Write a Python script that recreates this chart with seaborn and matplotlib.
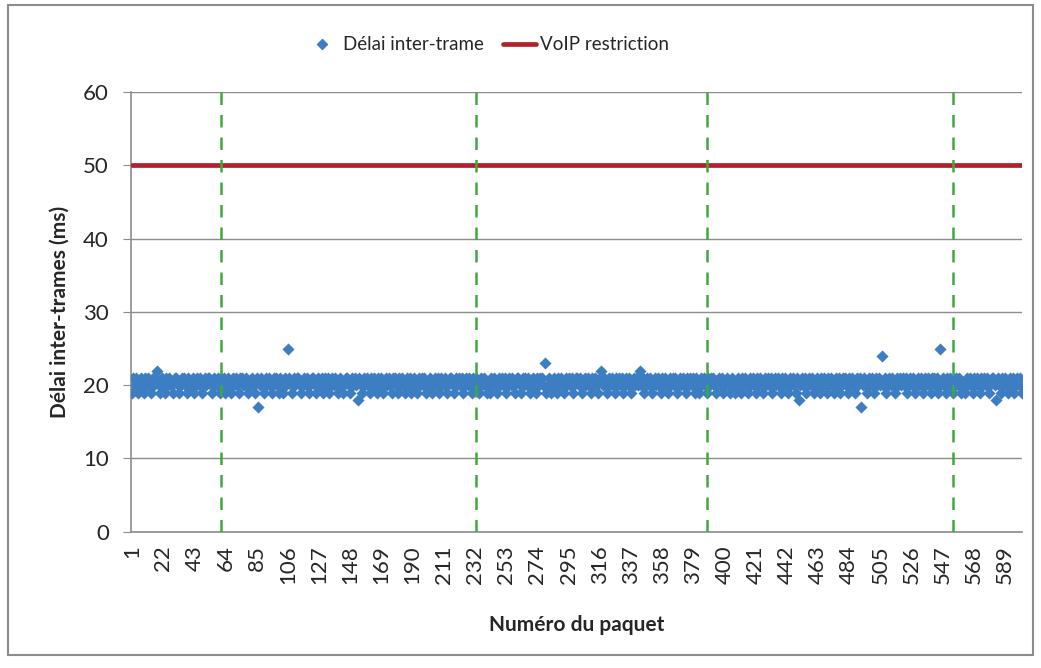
import numpy as np
import pandas as pd
import seaborn as sns
from matplotlib import pyplot as plt
from matplotlib.lines import Line2D
from matplotlib.patches import Rectangle

# Délai inter-trame (ms), paquets 1..600 (20 par ligne)
delai = [
    19, 21, 20, 21, 19, 20, 21, 20, 19, 21, 20, 21, 20, 19, 21, 20, 21, 22, 20, 19,
    21, 20, 19, 21, 20, 21, 20, 20, 19, 21, 21, 20, 19, 20, 21, 21, 20, 19, 21, 20,
    20, 21, 19, 20, 21, 20, 21, 19, 20, 21, 20, 21, 21, 20, 19, 21, 20, 20, 21, 19,
    21, 20, 21, 19, 20, 21, 20, 19, 21, 20, 21, 20, 19, 21, 21, 20, 20, 21, 19, 20,
    20, 21, 20, 19, 21, 17, 20, 21, 20, 19, 21, 20, 21, 20, 19, 20, 21, 21, 20, 19,
    21, 20, 19, 21, 20, 25, 21, 20, 19, 21, 20, 21, 21, 20, 19, 20, 21, 20, 21, 19,
    20, 21, 21, 20, 19, 21, 20, 20, 21, 19, 21, 20, 21, 19, 20, 21, 20, 21, 20, 19,
    21, 20, 19, 20, 21, 21, 20, 19, 21, 20, 21, 20, 18, 21, 20, 19, 21, 20, 21, 20,
    19, 21, 20, 21, 20, 19, 21, 20, 21, 19, 20, 21, 20, 21, 20, 19, 21, 21, 20, 19,
    21, 20, 21, 20, 19, 21, 20, 21, 19, 20, 21, 20, 19, 21, 20, 21, 20, 21, 19, 20,
    20, 21, 19, 20, 21, 20, 21, 19, 21, 20, 20, 21, 19, 20, 21, 21, 20, 19, 21, 20,
    21, 20, 21, 19, 20, 21, 20, 21, 20, 19, 21, 20, 21, 20, 19, 21, 20, 21, 20, 19,
    20, 19, 21, 20, 21, 20, 19, 21, 20, 21, 20, 21, 19, 20, 21, 20, 21, 20, 19, 21,
    21, 20, 19, 21, 20, 21, 20, 21, 19, 20, 21, 20, 19, 21, 20, 21, 21, 20, 23, 19,
    20, 21, 19, 20, 21, 20, 19, 21, 20, 21, 20, 19, 21, 20, 21, 20, 21, 19, 20, 21,
    21, 20, 21, 19, 20, 21, 20, 21, 20, 19, 21, 20, 21, 20, 19, 21, 22, 20, 21, 20,
    19, 21, 20, 21, 20, 19, 21, 20, 21, 20, 21, 19, 20, 21, 20, 21, 19, 20, 21, 20,
    21, 20, 22, 20, 21, 19, 20, 21, 20, 21, 19, 20, 21, 20, 21, 20, 19, 21, 20, 21,
    20, 19, 21, 20, 21, 20, 21, 19, 20, 21, 20, 21, 20, 19, 21, 20, 21, 20, 21, 19,
    21, 20, 19, 21, 20, 21, 20, 19, 21, 20, 21, 21, 20, 19, 20, 21, 20, 21, 19, 20,
    20, 21, 20, 19, 21, 20, 19, 20, 21, 20, 19, 21, 20, 21, 20, 19, 21, 20, 21, 20,
    19, 21, 20, 21, 20, 19, 21, 20, 21, 20, 21, 19, 20, 21, 20, 21, 20, 19, 21, 20,
    21, 20, 19, 21, 20, 21, 20, 19, 21, 18, 20, 21, 20, 21, 19, 20, 21, 20, 21, 19,
    20, 21, 20, 19, 21, 20, 21, 20, 19, 21, 20, 21, 20, 19, 21, 20, 21, 19, 20, 21,
    21, 20, 19, 21, 20, 21, 20, 19, 21, 20, 21, 17, 20, 21, 20, 19, 21, 20, 21, 20,
    19, 21, 20, 21, 20, 24, 20, 21, 19, 20, 21, 20, 21, 20, 19, 21, 20, 21, 20, 21,
    20, 21, 19, 20, 21, 20, 21, 19, 20, 21, 20, 21, 20, 19, 21, 20, 21, 20, 19, 21,
    21, 20, 21, 19, 25, 20, 21, 20, 19, 21, 20, 21, 20, 19, 20, 21, 20, 21, 19, 20,
    20, 19, 21, 20, 21, 20, 19, 21, 20, 21, 20, 19, 21, 20, 21, 20, 21, 19, 20, 21,
    21, 20, 18, 21, 20, 19, 21, 20, 21, 20, 19, 21, 20, 21, 19, 20, 21, 20, 21, 19,
]
restriction_voip = 50
# lignes verticales pointillées (numéros de paquet)
reperes = [61, 233, 388, 554]
xticks = [1, 22, 43, 64, 85, 106, 127, 148, 169, 190, 211, 232, 253, 274, 295,
          316, 337, 358, 379, 400, 421, 442, 463, 484, 505, 526, 547, 568, 589]

paquets = list(range(1, len(delai) + 1))
df = pd.DataFrame({'paquet': paquets, 'delai': delai,
                   'voip': [restriction_voip] * len(delai)})

sns.set_style('white')
plt.rcParams['font.family'] = ['Lato', 'DejaVu Sans']

bleu = '#3D7DC2'
rouge = '#B3202C'
vert = '#3DAA3A'

fig = plt.figure(figsize=(10.41, 6.68), dpi=100)
ax = fig.add_axes([0.126, 0.204, 0.856, 0.658])

sns.lineplot(data=df, x='paquet', y='voip', color=rouge, linewidth=3.4, ax=ax, zorder=3)
sns.scatterplot(data=df, x='paquet', y='delai', marker='D', s=38, color=bleu,
                linewidth=0, ax=ax, zorder=4)
for r in reperes:
    ax.axvline(r, color=vert, linestyle=(0, (5, 4)), linewidth=1.8, zorder=5)

ax.set_xlim(0.5, len(delai) + 0.5)
ax.set_ylim(0, 60)
ax.set_yticks(range(0, 61, 10))
ax.yaxis.grid(True, color='#8C8C8C', linewidth=1)
ax.xaxis.grid(False)
ax.set_xticks(xticks)
ax.set_xticklabels([str(t) for t in xticks], rotation=90, fontsize=16)
ax.tick_params(axis='y', labelsize=16, length=6, color='#8C8C8C', left=True, pad=10)
ax.tick_params(axis='x', length=0, pad=10)
for s in ['top', 'right']:
    ax.spines[s].set_visible(False)
for s in ['left', 'bottom']:
    ax.spines[s].set_color('#8C8C8C')
    ax.spines[s].set_linewidth(1.2)

ax.set_xlabel('Numéro du paquet', fontsize=15, fontweight='bold', labelpad=22)
ax.set_ylabel('Délai inter-trames (ms)', fontsize=15, fontweight='bold', labelpad=10)

handles = [Line2D([], [], marker='D', color=bleu, linestyle='none', markersize=5),
           Line2D([], [], color=rouge, linewidth=3.4)]
fig.legend(handles, ['Délai inter-trame', 'VoIP restriction'], loc='center',
           bbox_to_anchor=(0.468, 0.933), ncol=2, frameon=False, fontsize=13.5,
           handlelength=1.8, columnspacing=1.0, handletextpad=0.2)

# bordure du graphique
fig.patches.append(Rectangle((0.008, 0.02), 0.984, 0.972, transform=fig.transFigure,
                             fill=False, edgecolor='#8C8C8C', linewidth=1.5))

fig.savefig('out.png', dpi=100)
